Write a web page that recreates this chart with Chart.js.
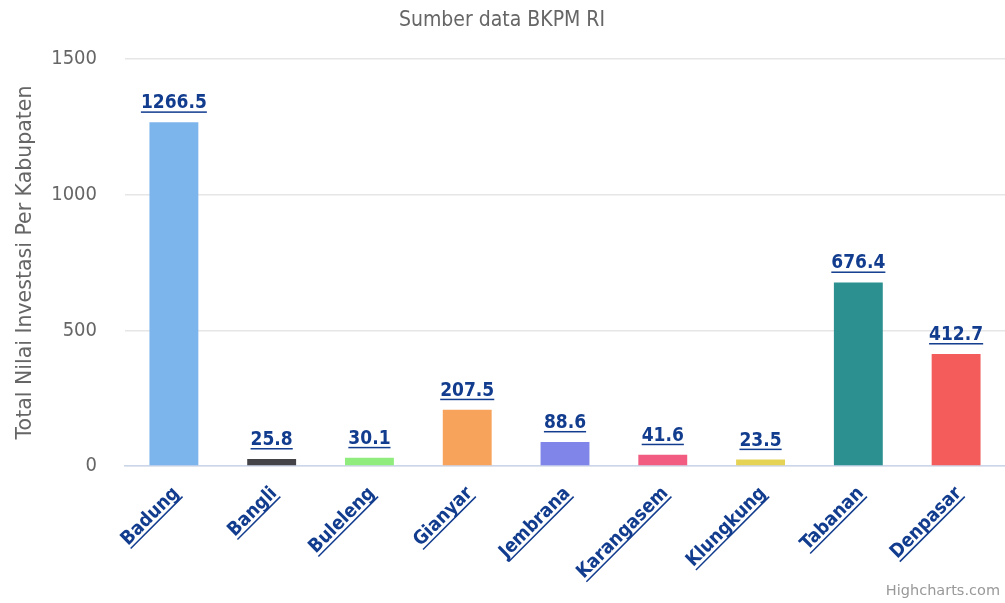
<!DOCTYPE html>
<html>
<head>
<meta charset="utf-8">
<script src="https://cdn.jsdelivr.net/npm/chart.js@4/dist/chart.umd.min.js"></script>
<style>
    html, body { margin: 0; padding: 0; background: #fff; }
    #wrap { width: 1005px; height: 603px; position: relative; }
</style>
</head>
<body>
<div id="wrap"><canvas id="chart"></canvas></div>
<script>
let kabupaten = ['Badung', 'Bangli', 'Buleleng', 'Gianyar', 'Jembrana', 'Karangasem', 'Klungkung', 'Tabanan', 'Denpasar'];
let investasi = [1266.5, 25.8, 30.1, 207.5, 88.6, 41.6, 23.5, 676.4, 412.7];
let warna = ['#7cb5ec', '#434348', '#90ed7d', '#f7a35c', '#8085e9', '#f15c80', '#e4d354', '#2b908f', '#f45b5b'];
let yTicks = [0, 500, 1000, 1500];

let judul = 'Sumber data BKPM RI';
let judulSumbuY = 'Total Nilai Investasi Per Kabupaten';
let kredit = 'Highcharts.com';

const narrow = "'DejaVu Sans Condensed', 'DejaVu Sans', sans-serif";
const wide = "'DejaVu Sans', sans-serif";
const linkColor = '#123c8e';

function underlinedText(ctx, text, x, y, align) {
    let w = ctx.measureText(text).width;
    ctx.textAlign = align;
    ctx.fillText(text, x, y);
    let x0 = align === 'right' ? x - w : (align === 'center' ? x - w / 2 : x);
    ctx.fillRect(x0, y + 3, w, 1.5);
}

const textPlugin = {
    id: 'textPlugin',
    afterDraw(chart) {
        let ctx = chart.ctx;
        let area = chart.chartArea;
        let meta = chart.getDatasetMeta(0);
        ctx.save();

        // judul
        ctx.fillStyle = '#666666';
        ctx.font = '21px ' + narrow;
        ctx.textAlign = 'center';
        ctx.textBaseline = 'alphabetic';
        ctx.fillText(judul, 502, 26);

        // judul sumbu y
        ctx.save();
        ctx.translate(31, (area.top + area.bottom) / 2);
        ctx.rotate(-Math.PI / 2);
        ctx.font = '20.5px ' + wide;
        ctx.fillStyle = '#666666';
        ctx.textAlign = 'center';
        ctx.fillText(judulSumbuY, 0, 0);
        ctx.restore();

        // label data
        ctx.fillStyle = linkColor;
        ctx.font = 'bold 19px ' + narrow;
        meta.data.forEach((bar, i) => {
            underlinedText(ctx, investasi[i].toFixed(1), bar.x, bar.y - 14, 'center');
        });

        // label kategori
        meta.data.forEach((bar, i) => {
            ctx.save();
            ctx.translate(bar.x + 6, area.bottom + 28);
            ctx.rotate(-Math.PI / 4);
            ctx.fillStyle = linkColor;
            ctx.font = 'bold 19px ' + narrow;
            ctx.textBaseline = 'alphabetic';
            underlinedText(ctx, kabupaten[i], 0, 0, 'right');
            ctx.restore();
        });

        // kredit
        ctx.fillStyle = '#999999';
        ctx.font = '14.5px ' + wide;
        ctx.textAlign = 'right';
        ctx.fillText(kredit, 1000, 595);
        ctx.restore();
    }
};

new Chart(document.getElementById('chart'), {
    type: 'bar',
    data: {
        labels: kabupaten,
        datasets: [{
            data: investasi,
            backgroundColor: warna,
            borderWidth: 0,
            categoryPercentage: 1,
            barPercentage: 0.5
        }]
    },
    options: {
        responsive: true,
        maintainAspectRatio: false,
        animation: false,
        devicePixelRatio: 1,
        layout: { padding: { top: 59, bottom: 137, left: 0, right: 0 } },
        plugins: {
            legend: { display: false },
            tooltip: { enabled: false },
            title: { display: false }
        },
        scales: {
            x: {
                grid: { display: false, drawTicks: false },
                border: { color: '#ccd6eb', width: 1.5 },
                ticks: { display: false }
            },
            y: {
                min: 0,
                max: 1500,
                afterFit(scale) { scale.width = 125; },
                afterBuildTicks(scale) { scale.ticks = yTicks.map(v => ({ value: v })); },
                grid: { color: '#e6e6e6', lineWidth: 1.5, drawTicks: false },
                border: { display: false },
                ticks: {
                    padding: 28,
                    color: '#666666',
                    font: { family: narrow, size: 20 },
                    callback: v => String(v)
                }
            }
        }
    },
    plugins: [textPlugin]
});
</script>
</body>
</html>
